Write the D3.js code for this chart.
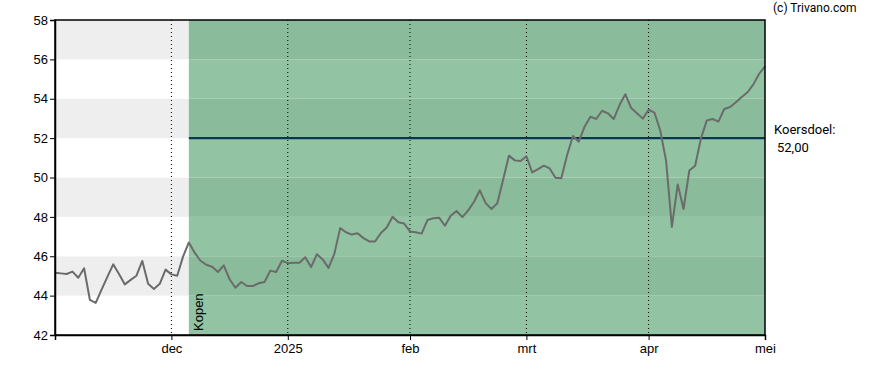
<!DOCTYPE html>
<html>
<head>
<meta charset="utf-8">
<script src="https://cdn.jsdelivr.net/npm/d3@7"></script>
<style>
  body { margin: 0; background: #fff; }
  svg text { font-family: Arial, "Liberation Sans", sans-serif; }
  .tick text { font-size: 13px; fill: #000; }
  .label { font-family: Roboto, Arial, sans-serif; }
</style>
</head>
<body>
<div id="chart"></div>
<script>
// koers per handelsdag (nov 2024 - apr 2025)
var koers = [
  45.16, 45.13, 45.10, 45.22, 44.91, 45.39, 43.78, 43.63, 44.30, 44.95,
  45.59, 45.10, 44.57, 44.80, 45.01, 45.76, 44.60, 44.34, 44.60, 45.32,
  45.08, 45.01, 45.98, 46.70, 46.18, 45.77, 45.57, 45.47, 45.20, 45.54,
  44.83, 44.40, 44.69, 44.49, 44.49, 44.63, 44.69, 45.27, 45.20, 45.77,
  45.65, 45.67, 45.67, 45.95, 45.45, 46.10, 45.84, 45.41, 46.12, 47.43,
  47.22, 47.10, 47.17, 46.92, 46.75, 46.75, 47.18, 47.46, 48.01, 47.73,
  47.66, 47.26, 47.22, 47.15, 47.84, 47.93, 47.96, 47.55, 48.06, 48.30,
  47.99, 48.33, 48.77, 49.35, 48.70, 48.40, 48.69, 49.89, 51.11, 50.87,
  50.84, 51.08, 50.26, 50.43, 50.60, 50.46, 49.99, 49.96, 51.14, 52.11,
  51.82, 52.58, 53.09, 52.97, 53.39, 53.26, 52.97, 53.68, 54.23, 53.53,
  53.26, 52.99, 53.44, 53.30, 52.39, 50.86, 47.49, 49.65, 48.40, 50.36,
  50.60, 51.99, 52.90, 52.97, 52.84, 53.48, 53.58, 53.82, 54.09, 54.33,
  54.73, 55.27, 55.65
];

// maandlabels met index van de handelsdag
var maandLabels = ["dec", "2025", "feb", "mrt", "apr", "mei"];
var maandIndex = [20, 40, 61, 81, 102, 122];

var yTicks = [42, 44, 46, 48, 50, 52, 54, 56, 58];

var kopenIndex = 23;
var koersdoel = 52.00;

var margin = {top: 20, right: 123, bottom: 35, left: 55};
var width = 888 - margin.left - margin.right;
var height = 370 - margin.top - margin.bottom;

var svg = d3.select("#chart").append("svg")
    .attr("width", 888)
    .attr("height", 370)
    .append("g")
    .attr("transform", "translate(" + margin.left + "," + margin.top + ")");

var xScale = d3.scaleLinear()
    .domain([0, koers.length - 1])
    .range([0, width]);

var yScale = d3.scaleLinear()
    .domain([42, 58])
    .range([height, 0]);

// banden: elke tweede strook grijs
var banden = [];
for (var i = 0; i < yTicks.length - 1; i++) {
    banden.push({lo: yTicks[i], hi: yTicks[i + 1], even: i % 2 === 1});
}

svg.selectAll(".band")
    .data(banden)
    .enter().append("rect")
    .attr("class", "band")
    .attr("x", 0)
    .attr("width", width)
    .attr("y", function(d) { return yScale(d.hi); })
    .attr("height", function(d) { return yScale(d.lo) - yScale(d.hi); })
    .attr("fill", function(d) { return d.even ? "#eeeeee" : "#ffffff"; });

// groene zone na koopadvies
var x0 = xScale(kopenIndex);
svg.selectAll(".groen")
    .data(banden)
    .enter().append("rect")
    .attr("class", "groen")
    .attr("x", x0)
    .attr("width", width - x0)
    .attr("y", function(d) { return yScale(d.hi); })
    .attr("height", function(d) { return yScale(d.lo) - yScale(d.hi); })
    .attr("fill", function(d) { return d.even ? "#8abc9b" : "#92c4a3"; });

// verticale stippellijnen
svg.selectAll(".vgrid")
    .data(maandIndex.slice(0, -1))
    .enter().append("line")
    .attr("class", "vgrid")
    .attr("x1", function(d) { return xScale(d); })
    .attr("x2", function(d) { return xScale(d); })
    .attr("y1", 0)
    .attr("y2", height)
    .attr("stroke", "#000")
    .attr("stroke-width", 1)
    .attr("stroke-dasharray", "1,3");

// koersdoel
svg.append("line")
    .attr("x1", x0)
    .attr("x2", width)
    .attr("y1", yScale(koersdoel))
    .attr("y2", yScale(koersdoel))
    .attr("stroke", "#0b3556")
    .attr("stroke-width", 2.2);

// koerslijn
var line = d3.line()
    .x(function(d, i) { return xScale(i); })
    .y(function(d) { return yScale(d); })
    .curve(d3.curveLinear);

svg.append("path")
    .datum(koers)
    .attr("fill", "none")
    .attr("stroke", "#6b6b6b")
    .attr("stroke-width", 2)
    .attr("stroke-linejoin", "round")
    .attr("d", line);

// kader
svg.append("rect")
    .attr("width", width)
    .attr("height", height)
    .attr("fill", "none")
    .attr("stroke", "#000")
    .attr("stroke-width", 1.5);

// assen
var yAxis = d3.axisLeft(yScale)
    .tickValues(yTicks)
    .tickSize(5)
    .tickPadding(2)
    .tickFormat(d3.format("d"));

svg.append("g")
    .attr("class", "y-axis")
    .call(yAxis)
    .call(function(g) { g.select(".domain").attr("stroke-width", 1.5); });

var xAxis = d3.axisBottom(xScale)
    .tickValues(maandIndex)
    .tickSize(5)
    .tickPadding(4)
    .tickFormat(function(d, i) { return maandLabels[i]; });

svg.append("g")
    .attr("class", "x-axis")
    .attr("transform", "translate(0," + height + ")")
    .call(xAxis)
    .call(function(g) { g.select(".domain").attr("stroke-width", 1.5); });

// teksten
svg.append("text")
    .attr("transform", "translate(" + (x0 + 14) + "," + (height - 4) + ") rotate(-90)")
    .attr("font-size", "13px")
    .attr("fill", "#000")
    .text("Kopen");

svg.append("text")
    .attr("class", "label")
    .attr("x", width + 9)
    .attr("y", yScale(koersdoel) - 4)
    .attr("font-size", "13px")
    .attr("fill", "#000")
    .text("Koersdoel:");

svg.append("text")
    .attr("class", "label")
    .attr("x", width + 12)
    .attr("y", yScale(koersdoel) + 14)
    .attr("font-size", "13px")
    .attr("fill", "#000")
    .text(d3.format(".2f")(koersdoel).replace(".", ","));

svg.append("text")
    .attr("class", "label")
    .attr("x", width + 8)
    .attr("y", -8)
    .attr("font-size", "12px")
    .attr("fill", "#000")
    .text("(c) Trivano.com");
</script>
</body>
</html>
